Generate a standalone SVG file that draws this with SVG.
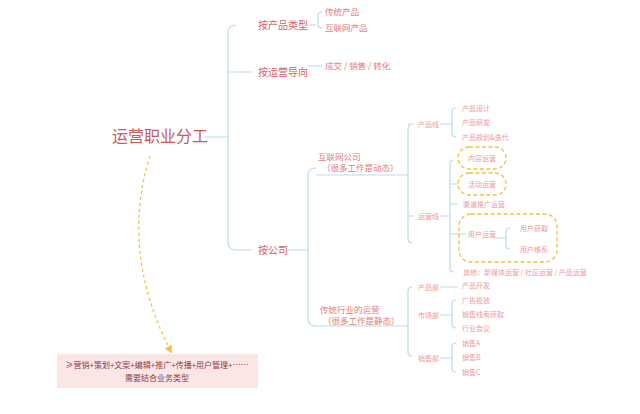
<svg xmlns="http://www.w3.org/2000/svg" width="640" height="414" viewBox="0 0 640 414">
<style>
text{font-family:"Noto Sans CJK SC","Liberation Sans",sans-serif}
.c{fill:none;stroke:#b9dbe8;stroke-width:1.2}
.l1{font-size:10px;fill:#d9606a}
.l2{font-size:8.5px;fill:#e27d7d}
.l3{font-size:7px;fill:#f09a9a}
.db{fill:none;stroke:#f2c23a;stroke-width:1.3;stroke-dasharray:4,2.5}
</style>
<defs><marker id="ah" markerWidth="6" markerHeight="6" refX="3" refY="3" orient="auto"><path d="M0,0L6,3L0,6z" fill="#f2c23a"/></marker></defs>
<rect width="640" height="414" fill="#fff"/>
<g id="connectors">
<path class="c" d="M205,137H228M236,25Q228,25 228,33V242Q228,250 236,250H252M228,72H252"/>
<path class="c" d="M308,25H316M322,12Q318,12 318,16V24Q318,28 322,28M308,66H322"/>
<path class="c" d="M286,250H308M316,168Q308,168 308,176V318Q308,326 316,326"/>
<path class="c" d="M316,175H408M412,124Q408,124 408,130V238Q408,243 412,243M408,124H414M408,216H414"/>
<path class="c" d="M440,124H452M456,108Q452,108 452,112V133Q452,137 456,137"/>
<path class="c" d="M440,216H450M454,160Q450,160 450,164V268Q450,272 454,272M450,184H458M450,204H458M450,234H466"/>
<path class="c" d="M495,238H506M510,228Q506,228 506,232V245Q506,249 510,249"/>
<path class="c" d="M316,326H408M412,287Q408,287 408,291V352Q408,356 412,356"/>
<path class="c" d="M440,287H458M440,315H452M456,300Q452,300 452,304V324Q452,328 456,328M440,358H452M456,343Q452,343 452,347V368Q452,372 456,372"/>
<path d="M150,156Q120,250 170,350" fill="none" stroke="#f2c23a" stroke-width="1.3" stroke-dasharray="3,3" marker-end="url(#ah)"/>
</g>
<g id="root"><text x="160" y="142" font-size="16" fill="#c85a5a" text-anchor="middle">运营职业分工</text></g>
<g id="n1"><text class="l1" x="258" y="29">按产品类型</text><text class="l2" x="325" y="15">传统产品</text><text class="l2" x="325" y="31">互联网产品</text></g>
<g id="n2"><text class="l1" x="258" y="76">按运营导向</text><text class="l2" x="325" y="69">成交 / 销售 / 转化</text></g>
<g id="n3"><text class="l1" x="258" y="254">按公司</text></g>
<g id="internet"><text class="l2" x="318" y="160">互联网公司</text><text class="l2" x="322" y="171">（很多工作是动态）</text>
<text class="l3" x="418" y="127">产品线</text><text class="l3" x="462" y="111">产品设计</text><text class="l3" x="462" y="125">产品研发</text><text class="l3" x="462" y="140">产品规划&amp;迭代</text>
<text class="l3" x="418" y="219">运营线</text>
<rect class="db" x="458" y="147" width="48" height="22" rx="11"/><text class="l3" x="468" y="161">内容运营</text>
<rect class="db" x="458" y="173" width="48" height="22" rx="11"/><text class="l3" x="468" y="187">活动运营</text>
<text class="l3" x="463" y="207">渠道推广运营</text>
<rect class="db" x="459" y="214" width="98" height="48" rx="12"/><text class="l3" x="468" y="237">用户运营</text>
<text class="l3" x="520" y="231">用户获取</text><text class="l3" x="520" y="252">用户维系</text>
<text class="l3" x="463" y="275">其他：新媒体运营 / 社区运营 / 产品运营</text></g>
<g id="traditional"><text class="l2" x="320" y="313">传统行业的运营</text><text class="l2" x="323" y="324">（很多工作是静态）</text>
<text class="l3" x="418" y="290">产品部</text><text class="l3" x="462" y="288">产品开发</text>
<text class="l3" x="418" y="318">市场部</text><text class="l3" x="462" y="303">广告投放</text><text class="l3" x="462" y="317">销售线索获取</text><text class="l3" x="462" y="331">行业会议</text>
<text class="l3" x="418" y="361">销售部</text><text class="l3" x="462" y="346">销售A</text><text class="l3" x="462" y="360">销售B</text><text class="l3" x="462" y="375">销售C</text></g>
<g id="note"><rect x="57" y="354" width="201" height="34" fill="#fbe6e6"/>
<text x="157" y="368" font-size="8" fill="#8b3a4a" text-anchor="middle">≥营销+策划+文案+编辑+推广+传播+用户管理+……</text>
<text x="157" y="381" font-size="8" fill="#8b3a4a" text-anchor="middle">需要结合业务类型</text></g>
</svg>
